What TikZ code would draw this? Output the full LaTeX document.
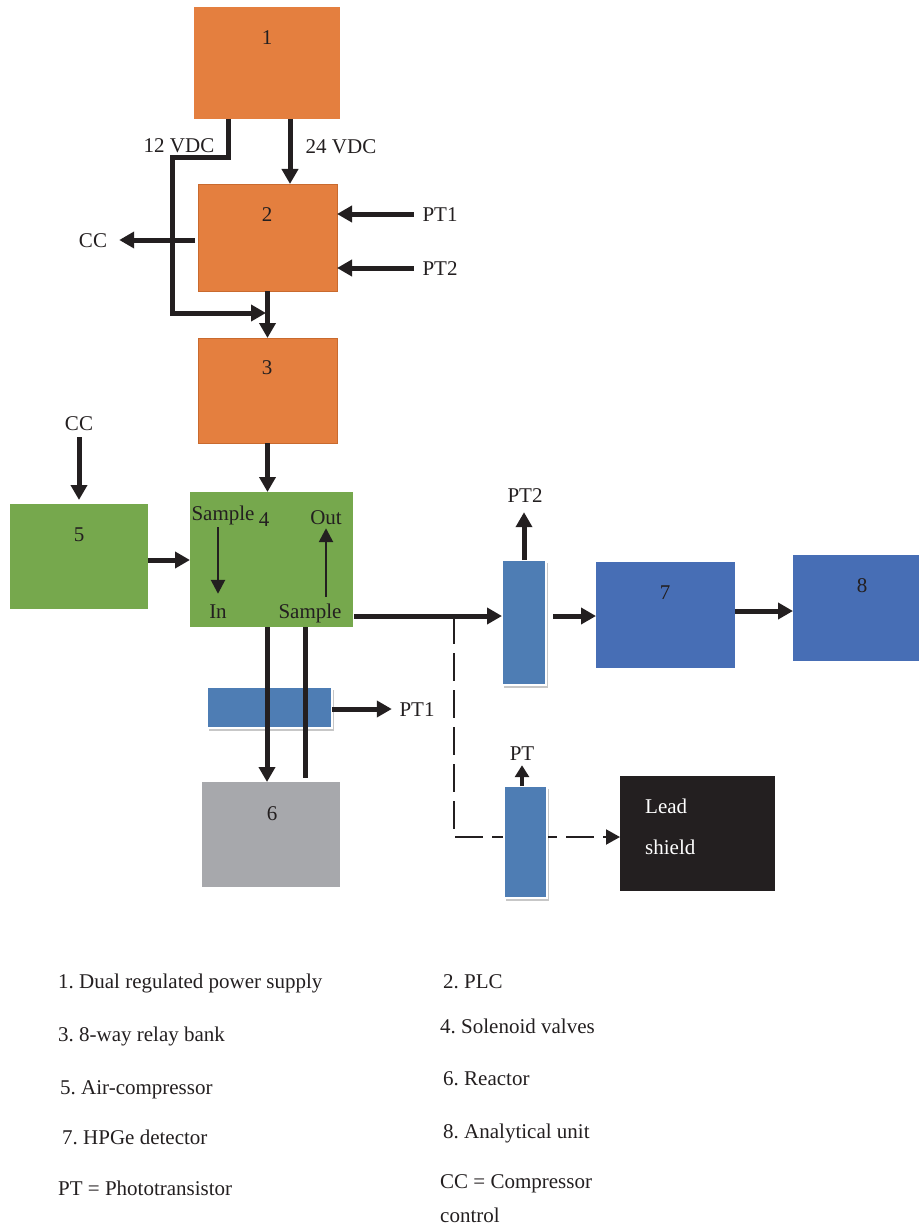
\documentclass[tikz,border=0pt]{standalone}
\usepackage{fontspec}
\setmainfont{Liberation Serif}
\usetikzlibrary{arrows.meta,shadows}
\definecolor{orng}{HTML}{E47F3F}
\definecolor{orngb}{HTML}{C96A2E}
\definecolor{grn}{HTML}{76A84D}
\definecolor{blu}{HTML}{476EB5}
\definecolor{sens}{HTML}{4E7DB4}
\definecolor{gry}{HTML}{A7A8AC}
\definecolor{ink}{HTML}{231F20}
\frenchspacing
\tikzset{
  box/.style={rectangle, inner sep=0pt, outer sep=0pt},
  sensor/.style={rectangle, inner sep=0pt, outer sep=0pt, fill=sens, draw=white, line width=2.2pt,
    drop shadow={shadow xshift=1.5pt, shadow yshift=-2.5pt, opacity=0.22, fill=black}},
  lbl/.style={inner sep=0pt, text height=15pt, text depth=1pt, text=ink},
  arr/.style={draw=ink, line width=5pt, -{Triangle[length=15pt,width=16pt]}},
  plain/.style={draw=ink, line width=5pt},
  tarr/.style={draw=ink, line width=2.6pt, -{Triangle[length=14pt,width=14pt]}},
  sarr/.style={draw=ink, line width=4pt, -{Triangle[length=12pt,width=14pt]}},
  dline/.style={draw=ink, line width=2pt, dash pattern=on 28pt off 9pt},
}
\begin{document}
\begin{tikzpicture}[x=1pt,y=-1pt,font=\fontsize{21}{25}\selectfont]
\useasboundingbox (0,0) rectangle (919,1225);
% boxes
\node[box, fill=orng, minimum width=146pt, minimum height=112pt] (b1) at (267,63) {};
\node[box, fill=orng, draw=orngb, line width=0.8pt, minimum width=139pt, minimum height=107pt] (b2) at (267.5,237.5) {};
\node[box, fill=orng, draw=orngb, line width=0.8pt, minimum width=139pt, minimum height=105pt] (b3) at (267.5,390.5) {};
\node[box, fill=grn, minimum width=163pt, minimum height=135pt] (b4) at (271.5,559.5) {};
\node[box, fill=grn, minimum width=138pt, minimum height=105pt] (b5) at (79,556.5) {};
\node[box, fill=gry, minimum width=138pt, minimum height=105pt] (b6) at (271,834.5) {};
\node[box, fill=blu, minimum width=139pt, minimum height=106pt] (b7) at (665.5,615) {};
\node[box, fill=blu, minimum width=126pt, minimum height=106pt] (b8) at (856,608) {};
\node[box, fill=ink, minimum width=155pt, minimum height=115pt] (lead) at (697.5,833.5) {};
\node[sensor, minimum width=125pt, minimum height=41pt] (s1) at (269.5,707.5) {};
\node[sensor, minimum width=44pt, minimum height=125pt] (s2) at (524,622.5) {};
% junction of the dashed branch
\coordinate (j) at (454,616);
\coordinate (jc) at (454,837);
\draw[dline, -{Triangle[length=14pt,width=15pt]}] (j) -- (jc) -- (jc -| lead.west);
\node[sensor, minimum width=43pt, minimum height=112pt] (s3) at (525.5,842) {};

% text labels
\node[lbl] (t1) at (267,38) {1};
\node[lbl] (t2) at (267,214) {2};
\node[lbl] (t3) at (267,367) {3};
\node[lbl] (t5) at (79,534) {5};
\node[lbl] (t6) at (272,813) {6};
\node[lbl] (t7) at (665,592) {7};
\node[lbl] (t8) at (862,585) {8};
\node[lbl] (v12) at (179,146) {12 VDC};
\node[lbl] (v24) at (341,147) {24 VDC};
\node[lbl] (cca) at (93,240) {CC};
\node[lbl] (pt1a) at (440,214) {PT1};
\node[lbl] (pt2a) at (440,268) {PT2};
\node[lbl] (ccb) at (79,423) {CC};
\node[lbl] (sa) at (223,513) {Sample};
\node[lbl] (n4) at (264,519) {4};
\node[lbl] (out) at (326,517) {Out};
\node[lbl] (in) at (218,611) {In};
\node[lbl] (sb) at (310,611) {Sample};
\node[lbl] (pt2b) at (525,495) {PT2};
\node[lbl] (pt1b) at (417,709) {PT1};
\node[lbl] (ptc) at (522,753) {PT};
\node[lbl, text=white, anchor=west] (ld1) at (645,806) {Lead};
\node[lbl, text=white, anchor=west] (ld2) at (645,847) {shield};

% connectors
\coordinate (k1) at (172,158);
\coordinate (k3) at (266,313);
\draw[arr] ([xshift=-39pt]b1.south) |- (k1) |- (k3);
\draw[arr] ([xshift=23pt]b1.south) -- ([xshift=23pt]b1.south |- b2.north);
\draw[arr, shorten >=12pt] ([xshift=-3pt]b2.west |- cca) -- (cca.east);
\draw[arr, shorten <=8.5pt] (pt1a.west) -- (pt1a.west -| b2.east);
\draw[arr, shorten <=8.5pt] (pt2a.west) -- (pt2a.west -| b2.east);
\draw[arr] (b2.south) -- (b3.north);
\draw[arr] (b3.south) -- (b3.south |- b4.north);
\draw[arr, shorten <=6pt, shorten >=4pt] (ccb.south) -- (ccb.south |- b5.north);
\draw[arr] ([yshift=-3.5pt]b5.east) -- ([yshift=-3.5pt]b5.east -| b4.west);
\draw[tarr, shorten <=6pt, shorten >=9pt] (in.north |- sa.south) -- (in.north);
\draw[tarr, shorten <=6pt, shorten >=3pt] (out.south |- sb.north) -- (out.south);
\draw[arr] ([xshift=1pt]b4.east |- j) -- (j -| s2.west);
\draw[arr, shorten <=7pt] (j -| s2.east) -- (j -| b7.west);
\draw[arr] ([yshift=4pt]b7.east) -- ([yshift=4pt]b7.east -| b8.west);
\draw[arr, shorten >=9pt] (s2.north) -- (s2.north |- pt2b.south);
\draw[sarr, shorten >=4pt] (s3.north -| ptc) -- (ptc.south);
\draw[arr] ([xshift=-4.5pt]b4.south) -- ([xshift=-4.5pt]b4.south |- b6.north);
\draw[plain, shorten >=4pt] ([xshift=33.5pt]b4.south) -- ([xshift=33.5pt]b4.south |- b6.north);
\draw[arr, shorten >=7.5pt] (s1.east |- pt1b) -- (pt1b.west);

% legend
\node[lbl, anchor=west] (g1) at (58,981) {1. Dual regulated power supply};
\node[lbl, anchor=west] (g3) at (58,1034) {3. 8-way relay bank};
\node[lbl, anchor=west] (g5) at (60,1087) {5. Air-compressor};
\node[lbl, anchor=west] (g7) at (62,1137) {7. HPGe detector};
\node[lbl, anchor=west] (gpt) at (58,1188) {PT = Phototransistor};
\node[lbl, anchor=west] (g2) at (443,981) {2. PLC};
\node[lbl, anchor=west] (g4) at (440,1026) {4. Solenoid valves};
\node[lbl, anchor=west] (g6) at (443,1078) {6. Reactor};
\node[lbl, anchor=west] (g8) at (443,1131) {8. Analytical unit};
\node[lbl, anchor=west] (gcc) at (440,1181) {CC = Compressor};
\node[lbl, anchor=west] (gct) at (440,1215) {control};
\end{tikzpicture}
\end{document}
